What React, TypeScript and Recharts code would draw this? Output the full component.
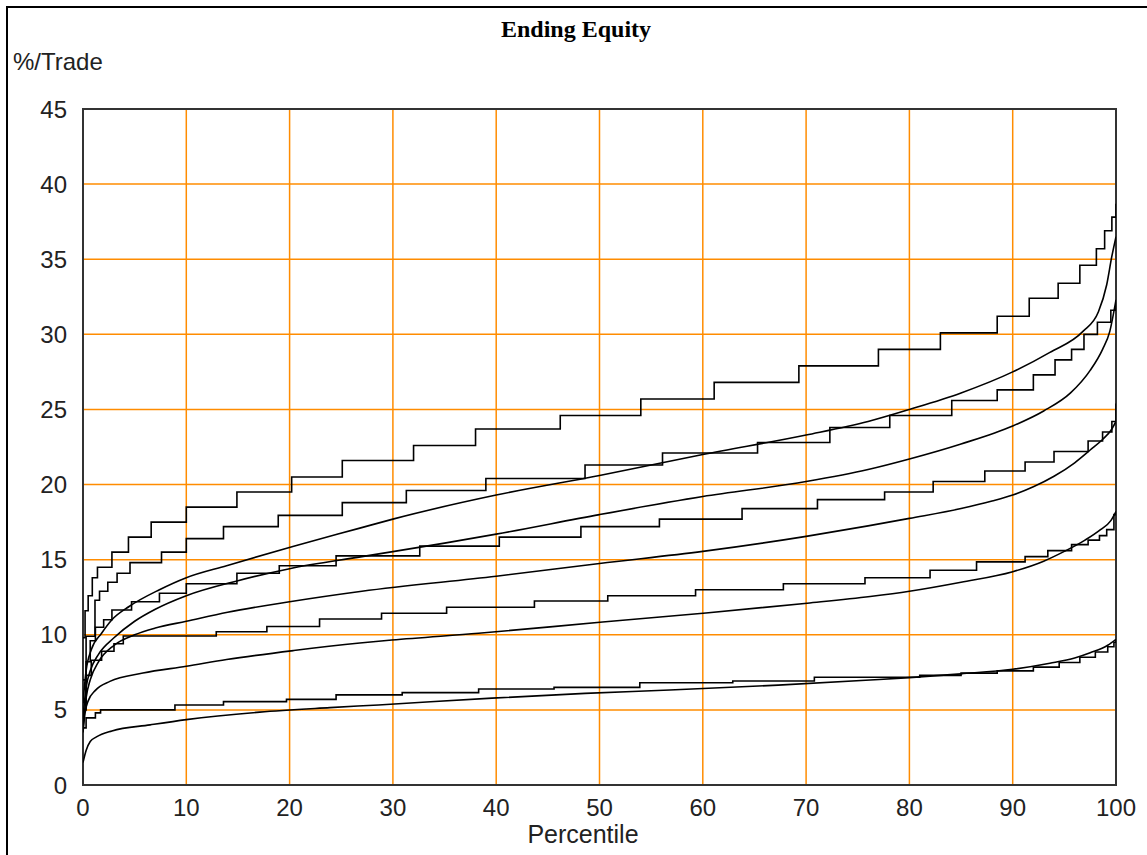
import { LineChart, Line, XAxis, YAxis, CartesianGrid, ReferenceArea } from "recharts";

// percentile ticks and %/trade ticks
const xTicks = [0, 10, 20, 30, 40, 50, 60, 70, 80, 90, 100];
const yTicks = [0, 5, 10, 15, 20, 25, 30, 35, 40, 45];

// stair-step series: [percentile, %/trade]
const stairA: [number, number][] = [
  [0, 9.8], [0.2, 11.6], [0.5, 12.6], [0.9, 13.8], [1.4, 14.5], [2.8, 15.5], [4.4, 16.5],
  [6.6, 17.5], [10, 18.5], [14.9, 19.5], [20.2, 20.5], [25.1, 21.6], [32, 22.6], [38, 23.7],
  [46.2, 24.6], [54, 25.7], [61.1, 26.8], [69.3, 27.9], [77, 29.0], [83, 30.1], [88.5, 31.2],
  [91.6, 32.4], [94.4, 33.4], [96.5, 34.6], [98.1, 35.7], [98.9, 36.9], [99.6, 37.8], [100, 38.7],
];
const stairB: [number, number][] = [
  [0, 7], [0.3, 9.9], [1.16, 12.3], [1.6, 12.9], [2.4, 13.5], [3.3, 14.1], [4.55, 14.8],
  [7.6, 15.5], [10, 16.4], [13.6, 17.2], [18.9, 17.95], [25.1, 18.8], [31.3, 19.6], [39, 20.4],
  [48.6, 21.3], [56.1, 22.1], [65.3, 22.8], [72.3, 23.8], [78.1, 24.6], [84.1, 25.6], [88.5, 26.3],
  [92, 27.3], [94.1, 28.3], [95.7, 29.0], [96.9, 30.0], [98.2, 30.8], [99.5, 31.6], [100, 32.0],
];
const stairE: [number, number][] = [
  [0, 5.5], [0.3, 8.2], [0.7, 9.6], [1.2, 10.5], [2, 11.0], [2.8, 11.65], [4.7, 12.2],
  [7.4, 12.76], [10, 13.4], [14.9, 14.1], [19, 14.6], [24.5, 15.25], [32.6, 15.9], [40.3, 16.5],
  [48.2, 17.2], [55.8, 17.7], [63.8, 18.4], [71.1, 19.0], [77.6, 19.5], [82.3, 20.2], [87.3, 20.9],
  [91.2, 21.5], [94, 22.2], [97.3, 22.9], [98.7, 23.5], [99.6, 24.2], [100, 25.4],
];
const stairH: [number, number][] = [
  [0, 5.0], [0.3, 7.3], [0.8, 8.3], [1.8, 8.9], [3, 9.4], [3.9, 9.92], [12.9, 10.2],
  [17.8, 10.55], [22.9, 11.05], [28.9, 11.43], [35.2, 11.83], [43.7, 12.25], [50.8, 12.6],
  [59.3, 13.0], [67.8, 13.4], [75.7, 13.8], [82, 14.3], [86.5, 14.85], [91.2, 15.2], [93.4, 15.6],
  [95.7, 16.0], [97.3, 16.3], [98.4, 16.6], [99.1, 17.0], [99.8, 18.0], [100, 18.2],
];
const stairJ: [number, number][] = [
  [0, 3.8], [0.3, 4.47], [1.2, 4.8], [1.7, 5.0], [8.9, 5.33], [13.6, 5.55], [19.7, 5.7],
  [24.5, 6.0], [30.9, 6.15], [38.3, 6.39], [45.6, 6.5], [53.9, 6.81], [62.9, 6.92], [70.8, 7.17],
  [81, 7.3], [85, 7.45], [88.5, 7.6], [92, 7.85], [94.5, 8.15], [96.5, 8.5], [98, 8.85],
  [99.2, 9.2], [99.8, 9.5], [100, 9.7],
];

// smooth series: [percentile, %/trade]
const smoothC: [number, number][] = [
  [0, 5.5], [0.3, 7.6], [0.8, 9.0], [1.8, 10.1], [2.8, 11.0], [4.5, 11.9], [7.4, 13.0],
  [10, 13.8], [13.9, 14.6], [20.4, 15.9], [26.8, 17.1], [30, 17.7], [40, 19.3], [50, 20.6],
  [60, 22.0], [70, 23.3], [76, 24.2], [80, 25.0], [85, 26.1], [90, 27.5], [93.6, 28.8],
  [96.8, 30.2], [98.3, 31.5], [99.1, 33.3], [99.6, 35.2], [100, 36.5],
];
const smoothD: [number, number][] = [
  [0, 4.5], [0.3, 6.5], [0.7, 7.6], [1.5, 8.7], [3, 9.8], [5, 10.9], [7, 11.7], [10, 12.6],
  [15, 13.6], [20, 14.4], [27, 15.2], [35, 16.1], [40, 16.7], [50, 18.0], [60, 19.2], [70, 20.2],
  [76, 21.0], [80, 21.7], [85, 22.7], [90, 23.9], [93, 24.9], [95.6, 26.1], [97.5, 27.6],
  [98.7, 29.0], [99.4, 30.2], [100, 32.3],
];
const smoothG: [number, number][] = [
  [0, 3.8], [0.3, 5.8], [0.7, 7.0], [1.5, 8.2], [3, 9.3], [5, 10.0], [7, 10.45], [10, 10.9],
  [14, 11.5], [20, 12.2], [27, 12.9], [40, 13.9], [50, 14.75], [60, 15.55], [70, 16.55], [76, 17.25],
  [80, 17.75], [85, 18.4], [88, 18.9], [90, 19.3], [92, 19.85], [94, 20.55], [96, 21.45],
  [97.5, 22.3], [98.7, 23.0], [99.5, 23.6], [100, 24.2],
];
const smoothI: [number, number][] = [
  [0, 3.5], [0.2, 4.8], [0.5, 5.6], [1.2, 6.3], [2.6, 6.9], [5.8, 7.45], [10, 7.9],
  [13.9, 8.35], [20.4, 8.95], [26.8, 9.45], [29.9, 9.65], [38.3, 10.1], [50.3, 10.85],
  [60.3, 11.45], [70.1, 12.1], [76.2, 12.55], [80, 12.9], [85, 13.5], [90, 14.2], [93, 14.9],
  [95, 15.55], [97, 16.3], [98.5, 17.0], [99.5, 17.6], [100, 18.2],
];
const smoothK: [number, number][] = [
  [0, 1.5], [0.3, 2.3], [0.7, 2.9], [1.3, 3.2], [2.8, 3.6], [6.5, 4.0], [10, 4.35],
  [17.1, 4.85], [23.9, 5.15], [28.6, 5.33], [39.6, 5.78], [48.6, 6.1], [56.8, 6.32], [67.3, 6.65],
  [76.2, 6.99], [80, 7.15], [85, 7.4], [90, 7.7], [93.6, 8.1], [96, 8.45], [97.5, 8.8],
  [99.2, 9.3], [100, 9.7],
];

const toRows = (pts: [number, number][]) => pts.map(([p, v]) => ({ p, v }));

const stairs = [stairA, stairB, stairE, stairH, stairJ];
const smooths = [smoothC, smoothD, smoothG, smoothI, smoothK];

const tickStyle = { fontFamily: "'Liberation Sans', Arial, sans-serif", fontSize: 24, fill: "#222" };

const App = () => {
  return (
    <div style={{ position: "absolute", left: 0, top: 0, width: 1147, height: 855, background: "#fff", overflow: "hidden" }}>
      <div style={{ position: "absolute", left: 6, top: 6, right: -10, bottom: -10, borderTop: "2px solid #000", borderLeft: "2px solid #000" }} />
      <LineChart width={1147} height={855} margin={{ top: 109, right: 31, left: 0, bottom: 0 }}>
        <CartesianGrid stroke="#ff8c00" strokeWidth={1.5} />
        <XAxis
          dataKey="p"
          type="number"
          domain={[0, 100]}
          ticks={xTicks}
          height={70}
          axisLine={false}
          tickLine={false}
          tickSize={0}
          tickMargin={14}
          tick={tickStyle}
          allowDataOverflow
        />
        <YAxis
          type="number"
          domain={[0, 45]}
          ticks={yTicks}
          width={83}
          axisLine={false}
          tickLine={false}
          tickSize={0}
          tickMargin={16}
          tick={tickStyle}
          allowDataOverflow
        />
        {stairs.map((s, i) => (
          <Line
            key={"s" + i}
            data={toRows(s)}
            dataKey="v"
            type="stepAfter"
            stroke="#000"
            strokeWidth={1.6}
            dot={false}
            activeDot={false}
            isAnimationActive={false}
          />
        ))}
        {smooths.map((s, i) => (
          <Line
            key={"c" + i}
            data={toRows(s)}
            dataKey="v"
            type="monotone"
            stroke="#000"
            strokeWidth={1.6}
            dot={false}
            activeDot={false}
            isAnimationActive={false}
          />
        ))}
        <ReferenceArea x1={0} x2={100} y1={0} y2={45} fill="none" stroke="#333" strokeWidth={2} />
      </LineChart>
      <svg width={1147} height={855} style={{ position: "absolute", left: 0, top: 0, pointerEvents: "none" }}>
        <text x={576} y={37} textAnchor="middle" fontFamily="'Liberation Serif', 'Times New Roman', serif" fontWeight="bold" fontSize={24} fill="#000">
          Ending Equity
        </text>
        <text x={13} y={70} fontFamily="'Liberation Sans', Arial, sans-serif" fontSize={24} fill="#222">
          %/Trade
        </text>
        <text x={583} y={843} textAnchor="middle" fontFamily="'Liberation Sans', Arial, sans-serif" fontSize={25} fill="#222">
          Percentile
        </text>
      </svg>
    </div>
  );
};

export default App;
